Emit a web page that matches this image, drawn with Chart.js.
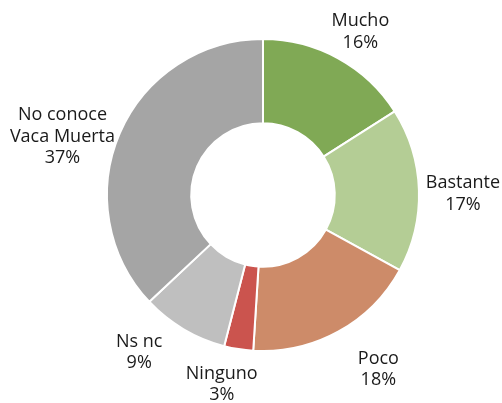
<!DOCTYPE html>
<html lang="es">
<head>
<meta charset="UTF-8">
<title>Conocimiento de Vaca Muerta</title>
<script src="https://cdn.jsdelivr.net/npm/chart.js"></script>
<style>
  html, body { margin: 0; padding: 0; background: #fff; }
  #wrap { width: 502px; height: 403px; }
</style>
</head>
<body>
<div id="wrap"><canvas id="chart" width="502" height="403"></canvas></div>
<script>
// categories (each label may have several lines)
var categories = [['Mucho'], ['Bastante'], ['Poco'], ['Ninguno'], ['Ns nc'], ['No conoce', 'Vaca Muerta']];
var values = [16, 17, 18, 3, 9, 37];
var colors = ['#80a955', '#b4cd95', '#cd8b69', '#cb544e', '#bfbfbf', '#a5a5a5'];

// draws the outside labels at the middle angle of each slice,
// with small nudges so they sit like the original ones
var outsideLabels = {
    id: 'outsideLabels',
    nudge: [[1, 12], [0, 5], [19, -1], [-10, -8], [-22, -15], [-17, 21]],
    afterDatasetsDraw: function (chart) {
        var ctx = chart.ctx;
        var meta = chart.getDatasetMeta(0);
        var nudge = this.nudge;
        ctx.save();
        ctx.font = '18px "Open Sans", sans-serif';
        ctx.fillStyle = '#1a1a1a';
        ctx.textAlign = 'center';
        ctx.textBaseline = 'middle';
        meta.data.forEach(function (arc, i) {
            var mid = (arc.startAngle + arc.endAngle) / 2;
            var dist = arc.outerRadius + 44;
            var x = arc.x + Math.cos(mid) * dist + nudge[i][0];
            var y = arc.y + Math.sin(mid) * dist + nudge[i][1];
            var lines = categories[i].concat([values[i] + '%']);
            var lh = 21.5;
            var top = y - (lines.length - 1) * lh / 2;
            lines.forEach(function (t, k) {
                ctx.fillText(t, x, top + k * lh);
            });
        });
        ctx.restore();
    }
};

new Chart(document.getElementById('chart'), {
    type: 'doughnut',
    data: {
        labels: categories.map(function (c) { return c.join(' '); }),
        datasets: [{
            data: values,
            backgroundColor: colors,
            borderColor: '#ffffff',
            borderWidth: 2
        }]
    },
    options: {
        responsive: false,
        animation: false,
        cutout: '46%',
        layout: { padding: { left: 106, right: 82, top: 38, bottom: 51 } },
        plugins: {
            legend: { display: false },
            tooltip: { enabled: false }
        }
    },
    plugins: [outsideLabels]
});
</script>
</body>
</html>
